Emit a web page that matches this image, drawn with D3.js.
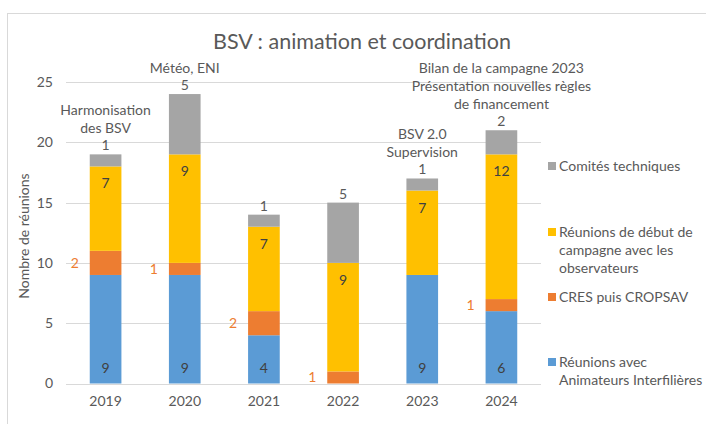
<!DOCTYPE html>
<html><head><meta charset="utf-8">
<script src="https://cdn.jsdelivr.net/npm/d3@7"></script>
<style>body{margin:0;background:#fff}svg{display:block}text{font-family:Lato,"Open Sans",sans-serif}</style>
</head><body><svg id="c" width="706" height="424"></svg>
<script>
const years = ["2019","2020","2021","2022","2023","2024"];
const animateurs = [9,9,4,0,9,6];
const cres = [2,1,2,1,0,1];
const debut = [7,9,7,9,7,12];
const comites = [1,5,1,5,1,2];
const yTicks = [0,5,10,15,20,25];
const annotations = [
  ["Harmonisation","des BSV"],
  ["Météo, ENI"],
  [],
  [],
  ["BSV 2.0","Supervision"],
  ["Bilan de la campagne 2023","Présentation nouvelles règles","de financement"]
];
const seriesNames = ["Réunions avec Animateurs Interfilières","CRES puis CROPSAV","Réunions de début de campagne avec les observateurs","Comités techniques"];
const legendLines = [["Réunions avec","Animateurs Interfilières"],["CRES puis CROPSAV"],["Réunions de début de","campagne avec les","observateurs"],["Comités techniques"]];
const colors = ["#5B9BD5","#ED7D31","#FFC000","#A5A5A5"];
const seriesData = [animateurs,cres,debut,comites];

const svg = d3.select("#c");
const textCol = "#595959";
const fs = "14px";
svg.append("rect").attr("x",7.5).attr("y",13.5).attr("width",710).attr("height",430)
  .attr("fill","none").attr("stroke","#d9d9d9");

const x = d3.scaleBand().domain(years).range([66,541]).paddingInner(0.6).paddingOuter(0.3);
const y = d3.scaleLinear().domain([0,25]).range([383.5,82]);

svg.append("g").selectAll("line").data(yTicks).join("line")
  .attr("x1",66).attr("x2",541).attr("y1",d=>Math.round(y(d))+0.5).attr("y2",d=>Math.round(y(d))+0.5)
  .attr("stroke","#d9d9d9").attr("stroke-width",1);

const ya = svg.append("g").attr("transform","translate(66,0)")
  .call(d3.axisLeft(y).tickValues(yTicks).tickSize(0).tickPadding(13));
ya.select(".domain").remove();
ya.selectAll("text").attr("fill",textCol).style("font-size",fs).style("font-family","Lato");

const xa = svg.append("g").attr("transform","translate(0,384)")
  .call(d3.axisBottom(x).tickSize(0).tickPadding(12));
xa.select(".domain").remove();
xa.selectAll("text").attr("fill",textCol).style("font-size",fs).style("font-family","Lato");

const table = years.map((yr,i)=>{const o={year:yr}; seriesNames.forEach((s,k)=>o[s]=seriesData[k][i]); return o;});
const stack = d3.stack().keys(seriesNames)(table);
stack.forEach((layer,k)=>{
  svg.append("g").selectAll("rect").data(layer).join("rect")
    .attr("x",d=>x(d.data.year)).attr("width",x.bandwidth())
    .attr("y",d=>y(d[1])).attr("height",d=>y(d[0])-y(d[1]))
    .attr("fill",colors[k]);
});

const lab = svg.append("g").style("font-size",fs);
stack.forEach((layer,k)=>{
  layer.forEach((d,i)=>{
    const v = d[1]-d[0];
    if(!v) return;
    const cx = x(d.data.year)+x.bandwidth()/2;
    if(k===0){
      lab.append("text").attr("x",cx).attr("y",y(d[0])-11).attr("text-anchor","middle").attr("fill","#404040").text(v);
    } else if(k===1){
      lab.append("text").attr("x",x(d.data.year)-15).attr("y",(y(d[0])+y(d[1]))/2+5).attr("text-anchor","middle").attr("fill","#ED7D31").text(v);
    } else if(k===2){
      lab.append("text").attr("x",cx).attr("y",y(d[1])+22).attr("text-anchor","middle").attr("fill","#404040").text(v);
    } else {
      lab.append("text").attr("x",cx).attr("y",y(d[1])-4).attr("text-anchor","middle").attr("fill",textCol).text(v);
    }
  });
});

const ann = svg.append("g").style("font-size",fs).attr("fill",textCol);
annotations.forEach((lines,i)=>{
  if(!lines.length) return;
  const top = y(d3.sum(seriesData,s=>s[i]));
  const cx = x(years[i])+x.bandwidth()/2;
  const n = lines.length;
  lines.forEach((t,j)=>{
    ann.append("text").attr("x",cx).attr("y",top-21-(n-1-j)*18.3).attr("text-anchor","middle").text(t);
  });
});

svg.append("text").attr("x",362).attr("y",49).attr("text-anchor","middle").attr("fill",textCol)
  .style("font-size","21.5px").text("BSV : animation et coordination");

svg.append("text").attr("transform","translate(29,236) rotate(-90)").attr("text-anchor","middle")
  .attr("fill",textCol).style("font-size",fs).text("Nombre de réunions");

const legY = [362,297,232,166];
const lg = svg.append("g").style("font-size",fs);
legendLines.forEach((lines,k)=>{
  lg.append("rect").attr("x",548).attr("y",legY[k]-4).attr("width",8).attr("height",8).attr("fill",colors[k]);
  lines.forEach((t,j)=>{
    lg.append("text").attr("x",559).attr("y",legY[k]+5+j*18).attr("fill",textCol).text(t);
  });
});
</script></body></html>
